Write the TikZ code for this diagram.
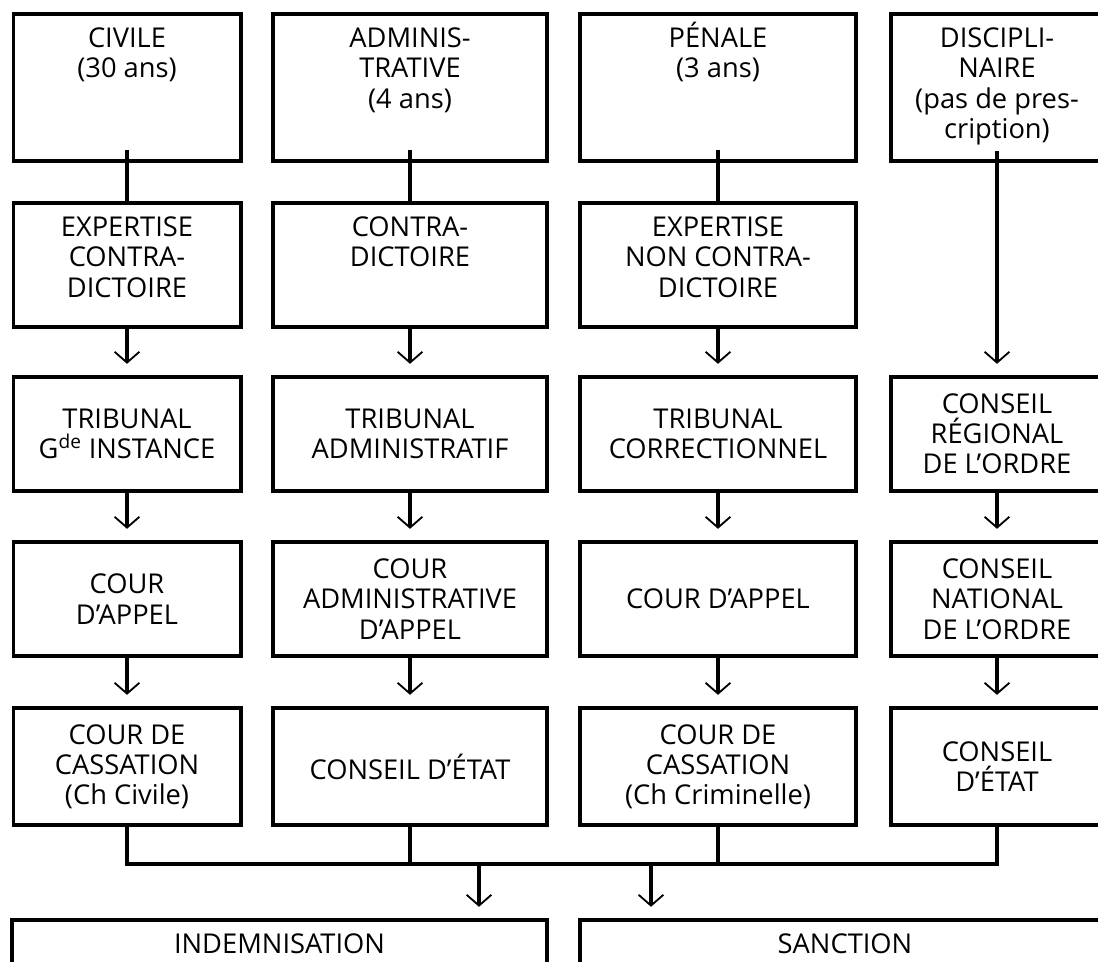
\documentclass[tikz,border=0pt]{standalone}
\usepackage{fontspec}
\setmainfont{Open Sans}
\usetikzlibrary{arrows.meta}
\newcommand{\boxfont}{\fontsize{19.4}{21.5}\selectfont}
\newcommand{\toptext}[1]{\begin{tabular}[t]{@{}c@{}}#1\end{tabular}}

\begin{document}
\begin{tikzpicture}[x=0.025cm,y=-0.025cm,
        box/.style={draw,line width=2.8pt,align=center,inner ysep=0.35cm,font=\boxfont},
        topbox/.style={box,anchor=north,text height=0.49cm,text depth=#1},
        wciv/.style={minimum width=5.675cm},
        wadm/.style={minimum width=6.85cm},
        wpen/.style={minimum width=6.9cm},
        wdis/.style={minimum width=5.3cm},
        hmid/.style={minimum height=2.85cm},
        hlow/.style={minimum height=2.925cm},
        link/.style={line width=2.4pt},
        arr/.style={link,-{Straight Barb[length=0.27cm,width=0.62cm,line width=1.3pt]},shorten >=0.28cm}]
                    \useasboundingbox (0,0) rectangle (1098,961);
                    \clip (0,0) rectangle (1098,961);
                    \node[topbox=2.485cm,wciv] (civ) at (127,12) {\toptext{CIVILE\\(30 ans)}};
                    \node[topbox=2.485cm,wadm] (adm) at (410,12) {\toptext{ADMINIS-\\TRATIVE\\(4 ans)}};
                    \node[topbox=2.485cm,wpen] (pen) at (718,12) {\toptext{PÉNALE\\(3 ans)}};
                    \node[topbox=2.485cm,wdis] (dis) at (997,12) {\toptext{DISCIPLI-\\NAIRE\\(pas de pres-\\cription)}};
                    \node[topbox=1.91cm,wciv] (exp1) at (127,201) {\toptext{EXPERTISE\\CONTRA-\\DICTOIRE}};
                    \node[topbox=1.91cm,wadm] (ctr2) at (410,201) {\toptext{CONTRA-\\DICTOIRE}};
                    \node[topbox=1.91cm,wpen] (exp3) at (718,201) {\toptext{EXPERTISE\\NON CONTRA-\\DICTOIRE}};
                    \node[box,wciv,hmid] (trib1) at (127,434) {TRIBUNAL\\G\textsuperscript{de} INSTANCE};
                    \node[box,wadm,hmid] (trib2) at (410,434) {TRIBUNAL\\ADMINISTRATIF};
                    \node[box,wpen,hmid] (trib3) at (718,434) {TRIBUNAL\\CORRECTIONNEL};
                    \node[box,wdis,hmid] (creg4) at (997,434) {CONSEIL\\RÉGIONAL\\DE L'ORDRE};
                    \node[box,wciv,hmid] (cour1) at (127,599) {COUR\\D'APPEL};
                    \node[box,wadm,hmid] (caa2) at (410,599) {COUR\\ADMINISTRATIVE\\D'APPEL};
                    \node[box,wpen,hmid] (cour3) at (718,599) {COUR D'APPEL};
                    \node[box,wdis,hmid] (cnat4) at (997,599) {CONSEIL\\NATIONAL\\DE L'ORDRE};
                    \node[box,wciv,hlow] (cass1) at (127,766.5) {COUR DE\\CASSATION\\(Ch Civile)};
                    \node[box,wadm,hlow] (ce2) at (410,766.5) {CONSEIL D'ÉTAT};
                    \node[box,wpen,hlow] (cass3) at (718,766.5) {COUR DE\\CASSATION\\(Ch Criminelle)};
                    \node[box,wdis,hlow] (ce4) at (997,766.5) {CONSEIL\\D'ÉTAT};
                    \node[topbox=1.5cm,minimum width=13.375cm] (indem) at (279.5,918) {INDEMNISATION};
                    \node[topbox=1.5cm,minimum width=13.25cm] (sanc) at (845,918) {SANCTION};
                    \draw [link,shorten <=-0.33cm] (civ)--(exp1);
                    \draw [link,shorten <=-0.33cm] (adm)--(ctr2);
                    \draw [link,shorten <=-0.33cm] (pen)--(exp3);
                    \draw [arr,shorten <=-0.3cm] (dis)--(creg4);
                    \draw [arr] (exp1)--(trib1);
                    \draw [arr] (ctr2)--(trib2);
                    \draw [arr] (exp3)--(trib3);
                    \draw [arr] (trib1)--(cour1);
                    \draw [arr] (trib2)--(caa2);
                    \draw [arr] (trib3)--(cour3);
                    \draw [arr] (creg4)--(cnat4);
                    \draw [arr] (cour1)--(cass1);
                    \draw [arr] (caa2)--(ce2);
                    \draw [arr] (cour3)--(cass3);
                    \draw [arr] (cnat4)--(ce4);
                    \coordinate (bus) at (0,864);
                    \coordinate (jl) at (479,864);
                    \coordinate (jr) at (651,864);
                    \draw [link] (cass1)--(cass1 |- bus)--(ce4 |- bus)--(ce4);
                    \draw [link] (ce2)--(ce2 |- bus);
                    \draw [link] (cass3)--(cass3 |- bus);
                    \draw [arr] (jl)--(jl |- indem.north);
                    \draw [arr] (jr)--(jr |- sanc.north);
\end{tikzpicture}
\end{document}
